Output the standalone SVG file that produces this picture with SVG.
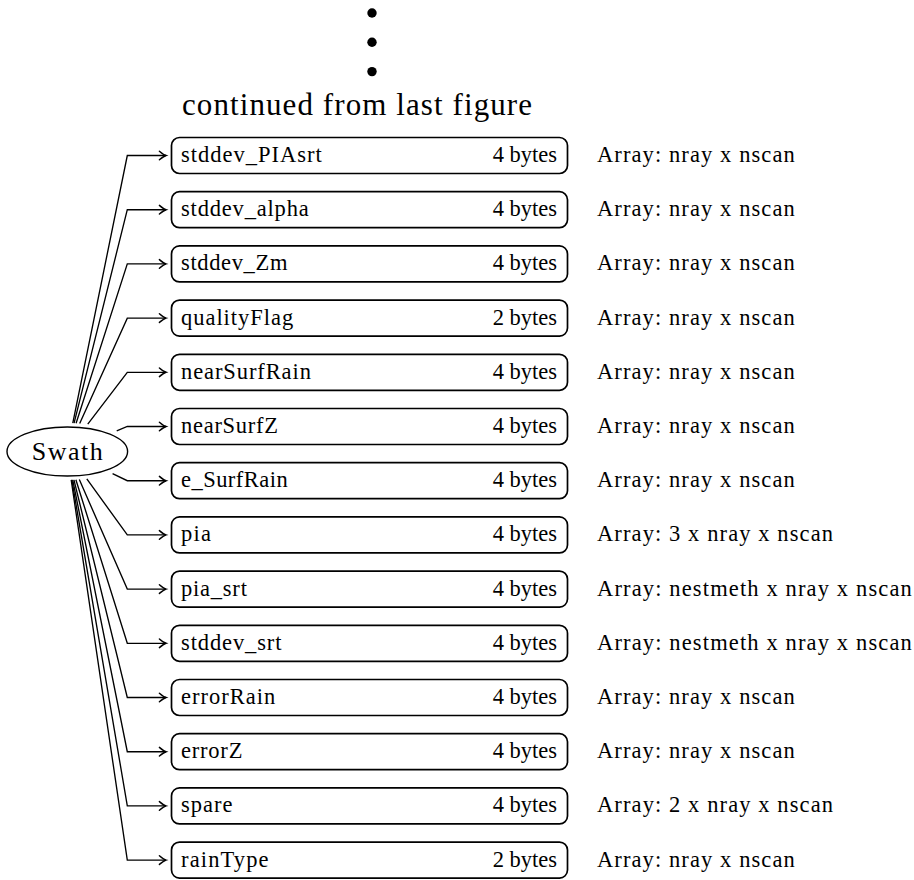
<svg xmlns="http://www.w3.org/2000/svg" width="914" height="880" viewBox="0 0 914 880" font-family="Liberation Serif, Times New Roman, serif">
<style>
text{font-family:'Liberation Serif','Times New Roman',serif;fill:#000}
.lbl{font-size:22.5px}
.end{text-anchor:end}
.box{fill:#fff;stroke:#000;stroke-width:1.7}
.edge{fill:none;stroke:#000;stroke-width:1.35;marker-end:url(#to)}
</style>
<defs>
<marker id="to" markerUnits="userSpaceOnUse" markerWidth="12" markerHeight="12" viewBox="-7 -5 9 10" refX="0" refY="0" orient="auto">
<path d="M-5.5,-3.6 Q-2,-0.6 0,0 Q-2,0.6 -5.5,3.6" fill="none" stroke="#000" stroke-width="1.2" stroke-linecap="round"/>
</marker>
</defs>
<rect width="914" height="880" fill="#fff"/>
<g id="dots">
<circle cx="372" cy="13" r="4.7"/>
<circle cx="372" cy="42.3" r="4.7"/>
<circle cx="372" cy="71.6" r="4.7"/>
</g>
<text x="182" y="115" font-size="31" textLength="350" lengthAdjust="spacing">continued from last figure</text>
<g id="connectors">
<polyline class="edge" points="72.79,423.09 127.3,155.5 166,155.5"/>
<polyline class="edge" points="74.07,423.14 127.3,209.7 166,209.7"/>
<polyline class="edge" points="76.09,423.23 127.3,263.9 166,263.9"/>
<polyline class="edge" points="79.68,423.45 127.3,318.1 166,318.1"/>
<polyline class="edge" points="87.78,424.21 127.3,372.3 166,372.3"/>
<polyline class="edge" points="116.72,430.89 127.3,426.5 166,426.5"/>
<polyline class="edge" points="112.57,473.57 127.3,480.7 166,480.7"/>
<polyline class="edge" points="86.81,478.9 127.3,534.9 166,534.9"/>
<polyline class="edge" points="79.31,479.58 127.3,589.1 166,589.1"/>
<polyline class="edge" points="75.89,479.79 127.3,643.3 166,643.3"/>
<polyline class="edge" points="73.95,479.87 127.3,697.5 166,697.5"/>
<polyline class="edge" points="72.71,479.91 127.3,751.7 166,751.7"/>
<polyline class="edge" points="71.84,479.94 127.3,805.9 166,805.9"/>
<polyline class="edge" points="71.2,479.95 127.3,860.1 166,860.1"/>
</g>
<g id="swath">
<ellipse cx="67.3" cy="451.5" rx="60.3" ry="24.5" fill="#fff" stroke="#000" stroke-width="1.4"/>
<text x="67.3" y="460" font-size="26" text-anchor="middle" textLength="71" lengthAdjust="spacing">Swath</text>
</g>
<g id="stddev_PIAsrt">
<rect class="box" x="171.5" y="137.5" width="396" height="36" rx="8"/>
<text class="lbl" x="181" y="162" textLength="140.7">stddev_PIAsrt</text>
<text class="lbl end" x="557" y="162">4 bytes</text>
</g>
<g id="stddev_alpha">
<rect class="box" x="171.5" y="191.7" width="396" height="36" rx="8"/>
<text class="lbl" x="181" y="216.2" textLength="127.7">stddev_alpha</text>
<text class="lbl end" x="557" y="216.2">4 bytes</text>
</g>
<g id="stddev_Zm">
<rect class="box" x="171.5" y="245.9" width="396" height="36" rx="8"/>
<text class="lbl" x="181" y="270.4" textLength="106.4">stddev_Zm</text>
<text class="lbl end" x="557" y="270.4">4 bytes</text>
</g>
<g id="qualityFlag">
<rect class="box" x="171.5" y="300.1" width="396" height="36" rx="8"/>
<text class="lbl" x="181" y="324.6" textLength="112.2">qualityFlag</text>
<text class="lbl end" x="557" y="324.6">2 bytes</text>
</g>
<g id="nearSurfRain">
<rect class="box" x="171.5" y="354.3" width="396" height="36" rx="8"/>
<text class="lbl" x="181" y="378.8" textLength="129.9">nearSurfRain</text>
<text class="lbl end" x="557" y="378.8">4 bytes</text>
</g>
<g id="nearSurfZ">
<rect class="box" x="171.5" y="408.5" width="396" height="36" rx="8"/>
<text class="lbl" x="181" y="433" textLength="97">nearSurfZ</text>
<text class="lbl end" x="557" y="433">4 bytes</text>
</g>
<g id="e_SurfRain">
<rect class="box" x="171.5" y="462.7" width="396" height="36" rx="8"/>
<text class="lbl" x="181" y="487.2" textLength="106.7">e_SurfRain</text>
<text class="lbl end" x="557" y="487.2">4 bytes</text>
</g>
<g id="pia">
<rect class="box" x="171.5" y="516.9" width="396" height="36" rx="8"/>
<text class="lbl" x="181" y="541.4" textLength="30">pia</text>
<text class="lbl end" x="557" y="541.4">4 bytes</text>
</g>
<g id="pia_srt">
<rect class="box" x="171.5" y="571.1" width="396" height="36" rx="8"/>
<text class="lbl" x="181" y="595.6" textLength="65.9">pia_srt</text>
<text class="lbl end" x="557" y="595.6">4 bytes</text>
</g>
<g id="stddev_srt">
<rect class="box" x="171.5" y="625.3" width="396" height="36" rx="8"/>
<text class="lbl" x="181" y="649.8" textLength="100.4">stddev_srt</text>
<text class="lbl end" x="557" y="649.8">4 bytes</text>
</g>
<g id="errorRain">
<rect class="box" x="171.5" y="679.5" width="396" height="36" rx="8"/>
<text class="lbl" x="181" y="704" textLength="94.3">errorRain</text>
<text class="lbl end" x="557" y="704">4 bytes</text>
</g>
<g id="errorZ">
<rect class="box" x="171.5" y="733.7" width="396" height="36" rx="8"/>
<text class="lbl" x="181" y="758.2" textLength="61.4">errorZ</text>
<text class="lbl end" x="557" y="758.2">4 bytes</text>
</g>
<g id="spare">
<rect class="box" x="171.5" y="787.9" width="396" height="36" rx="8"/>
<text class="lbl" x="181" y="812.4" textLength="51.4">spare</text>
<text class="lbl end" x="557" y="812.4">4 bytes</text>
</g>
<g id="rainType">
<rect class="box" x="171.5" y="842.1" width="396" height="36" rx="8"/>
<text class="lbl" x="181" y="866.6" textLength="87.6">rainType</text>
<text class="lbl end" x="557" y="866.6">2 bytes</text>
</g>
<g id="descriptions">
<text class="lbl" x="597" y="162" textLength="197.8">Array: nray x nscan</text>
<text class="lbl" x="597" y="216.2" textLength="197.8">Array: nray x nscan</text>
<text class="lbl" x="597" y="270.4" textLength="197.8">Array: nray x nscan</text>
<text class="lbl" x="597" y="324.6" textLength="197.8">Array: nray x nscan</text>
<text class="lbl" x="597" y="378.8" textLength="197.8">Array: nray x nscan</text>
<text class="lbl" x="597" y="433" textLength="197.8">Array: nray x nscan</text>
<text class="lbl" x="597" y="487.2" textLength="197.8">Array: nray x nscan</text>
<text class="lbl" x="597" y="541.4" textLength="236">Array: 3 x nray x nscan</text>
<text class="lbl" x="597" y="595.6" textLength="314.8">Array: nestmeth x nray x nscan</text>
<text class="lbl" x="597" y="649.8" textLength="314.8">Array: nestmeth x nray x nscan</text>
<text class="lbl" x="597" y="704" textLength="197.8">Array: nray x nscan</text>
<text class="lbl" x="597" y="758.2" textLength="197.8">Array: nray x nscan</text>
<text class="lbl" x="597" y="812.4" textLength="236">Array: 2 x nray x nscan</text>
<text class="lbl" x="597" y="866.6" textLength="197.8">Array: nray x nscan</text>
</g>
</svg>
